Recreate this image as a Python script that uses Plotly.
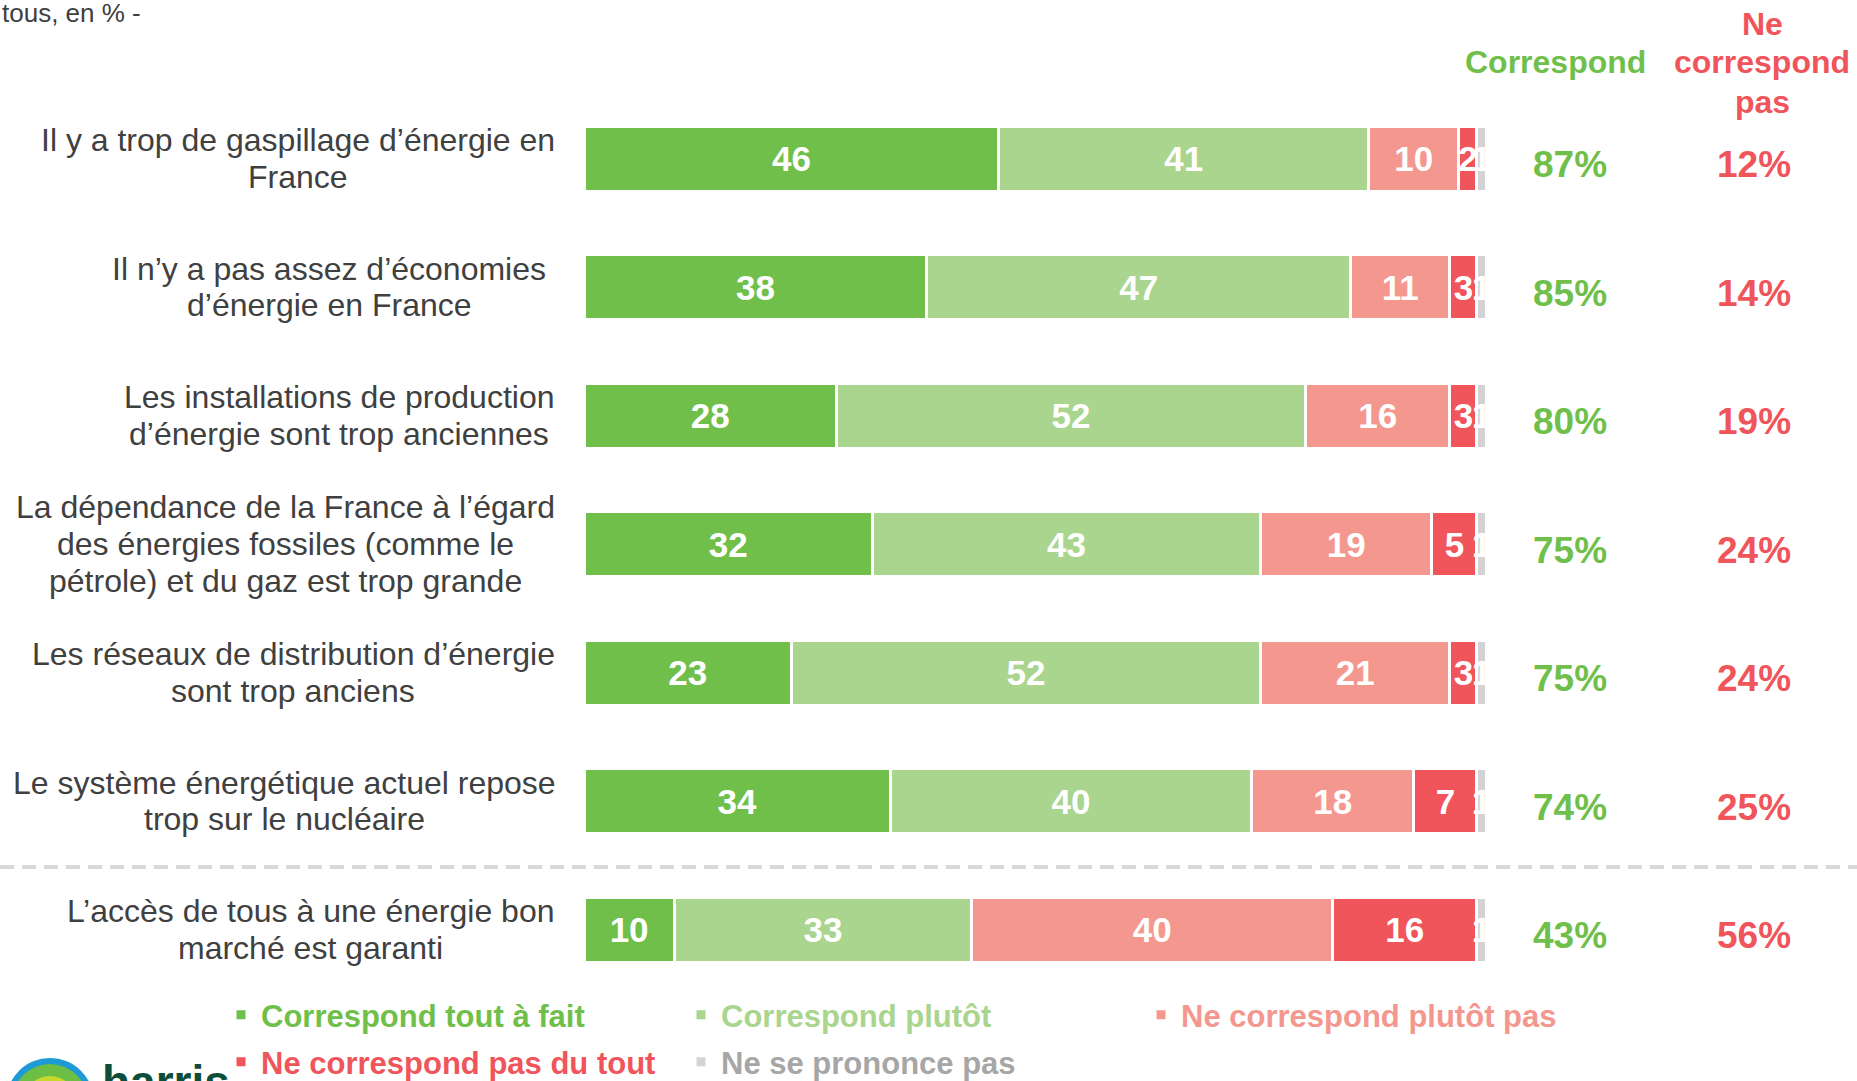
import plotly.graph_objects as go

# lignes du graphique, de haut en bas
items = [
    ["Il y a trop de gaspillage d’énergie en", "France"],
    ["Il n’y a pas assez d’économies", "d’énergie en France"],
    ["Les installations de production", "d’énergie sont trop anciennes"],
    ["La dépendance de la France à l’égard", "des énergies fossiles (comme le",
     "pétrole) et du gaz est trop grande"],
    ["Les réseaux de distribution d’énergie", "sont trop anciens"],
    ["Le système énergétique actuel repose", "trop sur le nucléaire"],
    ["L’accès de tous à une énergie bon", "marché est garanti"],
]
tout_a_fait = [46, 38, 28, 32, 23, 34, 10]
plutot = [41, 47, 52, 43, 52, 40, 33]
plutot_pas = [10, 11, 16, 19, 21, 18, 40]
pas_du_tout = [2, 3, 3, 5, 3, 7, 16]
nsp = [1, 1, 1, 1, 1, 1, 1]
correspond = [87, 85, 80, 75, 75, 74, 43]
ne_correspond_pas = [12, 14, 19, 24, 24, 25, 56]

series = [
    ("Correspond tout à fait", tout_a_fait, "#70BF4B", "#70BF4B", "legend"),
    ("Correspond plutôt", plutot, "#A9D58E", "#A9D58E", "legend"),
    ("Ne correspond plutôt pas", plutot_pas, "#F4978E", "#F4978E", "legend"),
    ("Ne correspond pas du tout", pas_du_tout, "#EF555B", "#EF555B", "legend2"),
    ("Ne se prononce pas", nsp, "#D3D3D3", "#A6A6A6", "legend2"),
]

FONT = "Liberation Sans, Arial, sans-serif"
W, H = 1857, 1081
row0, step = 158.5, 128.5  # centre de la 1re barre et pas, en px
label_cx = [298, 329, 339, 285, 293, 284, 310]  # centre des blocs de texte
rows = list(range(len(items)))


def px_x(p):
    return p / W


def px_y(p):
    return 1 - p / H


fig = go.Figure()
for name, vals, col, txtcol, leg in series:
    fig.add_bar(
        y=rows, x=vals, orientation="h", width=65 / step,
        name=f'<span style="color:{txtcol}">{name}</span>', legend=leg,
        marker=dict(color=col, line=dict(color="white", width=3)),
        text=vals, textposition="inside", insidetextanchor="middle",
        constraintext="none",
        textfont=dict(family=FONT, size=35, color="white", weight="bold"),
        hoverinfo="x+y",
    )

ann = []
for i, lines in enumerate(items):
    n = len(lines)
    for k, line in enumerate(lines):
        ann.append(dict(x=px_x(label_cx[i]), xref="paper", y=i, yref="y",
                        yshift=-(k - (n - 1) / 2) * 36.7, text=line,
                        xanchor="center", yanchor="middle", showarrow=False,
                        font=dict(family=FONT, size=32, color="#404040")))
    ann.append(dict(x=px_x(1570), xref="paper", y=i, yref="y", yshift=-6,
                    text=f"{correspond[i]}%", showarrow=False,
                    xanchor="center", yanchor="middle",
                    font=dict(family=FONT, size=37, color="#70BF4B", weight="bold")))
    ann.append(dict(x=px_x(1754), xref="paper", y=i, yref="y", yshift=-6,
                    text=f"{ne_correspond_pas[i]}%", showarrow=False,
                    xanchor="center", yanchor="middle",
                    font=dict(family=FONT, size=37, color="#EF555B", weight="bold")))

ann.append(dict(x=px_x(1555), xref="paper", y=px_y(62), yref="paper",
                text="Correspond", showarrow=False,
                xanchor="center", yanchor="middle",
                font=dict(family=FONT, size=32, color="#70BF4B", weight="bold")))
for txt, yy in [("Ne", 24), ("correspond", 62), ("pas", 102)]:
    ann.append(dict(x=px_x(1762), xref="paper", y=px_y(yy), yref="paper",
                    text=txt, showarrow=False, xanchor="center", yanchor="middle",
                    font=dict(family=FONT, size=32, color="#EF555B", weight="bold")))
ann.append(dict(x=px_x(0), xref="paper", y=px_y(13), yref="paper",
                xanchor="left", yanchor="middle",
                text="tous, en % -", showarrow=False,
                font=dict(family=FONT, size=26, color="#404040")))
# logo (tronqué en bas)
ann.append(dict(x=px_x(100), xref="paper", y=px_y(1054), yref="paper",
                xanchor="left", yanchor="top", text="harris", showarrow=False,
                font=dict(family=FONT, size=46, color="#0E4D3A", weight="bold")))

shapes = [
    dict(type="line", xref="paper", yref="paper", x0=0, x1=1,
         y0=px_y(867), y1=px_y(867),
         line=dict(color="#D9D9D9", width=4, dash="14px,8px")),
]
for r, col in [(44, "#1E9AD6"), (38, "#6DBE45"), (26, "#C8D92B"), (14, "#F2E600")]:
    shapes.append(dict(type="circle", xref="paper", yref="paper",
                       x0=px_x(50 - r), x1=px_x(50 + r),
                       y0=px_y(1102 + r), y1=px_y(1102 - r),
                       fillcolor=col, line=dict(width=0)))

leg_style = dict(orientation="h", xanchor="left", yanchor="middle",
                 entrywidth=415, entrywidthmode="pixels", traceorder="normal",
                 font=dict(family=FONT, size=31, weight="bold"),
                 bgcolor="rgba(0,0,0,0)")

fig.update_layout(
    width=W, height=H, barmode="stack",
    margin=dict(l=0, r=0, t=0, b=0, autoexpand=False),
    plot_bgcolor="white", paper_bgcolor="white",
    xaxis=dict(domain=[px_x(584), px_x(1486)], range=[0, 100], visible=False),
    yaxis=dict(domain=[0, 1], range=[(H - row0) / step, -row0 / step],
               visible=False),
    annotations=ann, shapes=shapes,
    legend=dict(x=px_x(221), y=px_y(1015), **leg_style),
    legend2=dict(x=px_x(221), y=px_y(1062), **leg_style),
    showlegend=True,
)

# pas de marge autour du graphique dans la page
fig.write_html("out.html", config={"displayModeBar": False},
               post_script="document.body.style.margin = '0';")
